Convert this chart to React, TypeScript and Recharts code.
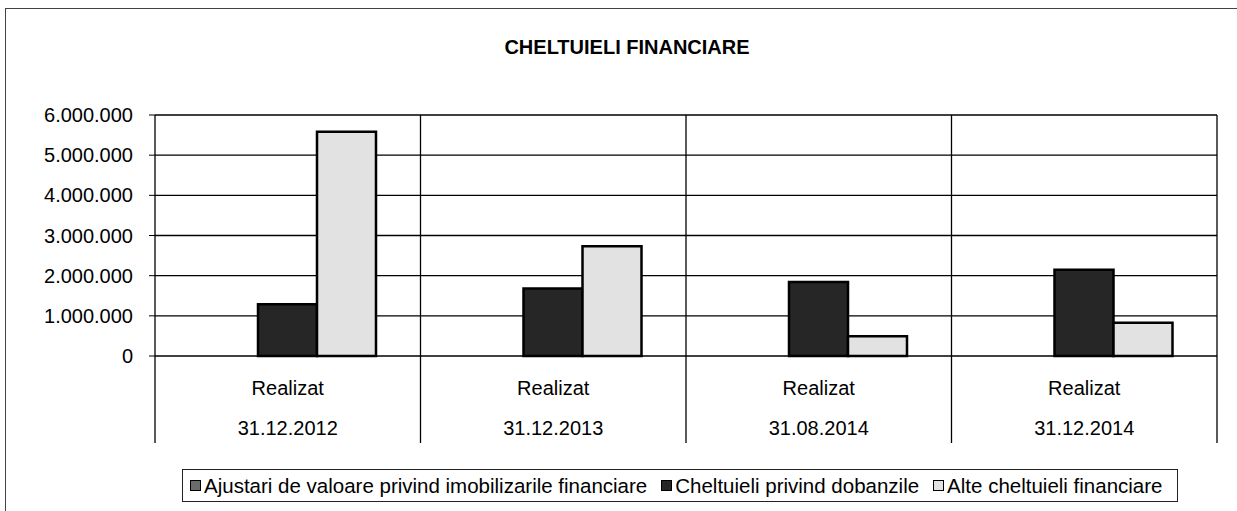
import React from 'react';
import { BarChart, Bar, XAxis, YAxis, CartesianGrid, Legend } from 'recharts';

// categories (two-line labels)
const stages = ['Realizat', 'Realizat', 'Realizat', 'Realizat'];
const dates = ['31.12.2012', '31.12.2013', '31.08.2014', '31.12.2014'];

// series values (lei)
const ajustari = [0, 0, 0, 0];
const dobanzi = [1290000, 1680000, 1840000, 2150000];
const alte = [5580000, 2730000, 490000, 830000];

const yTicks = [0, 1000000, 2000000, 3000000, 4000000, 5000000, 6000000];

const SERIES = [
  { key: 'ajustari', name: 'Ajustari de valoare privind imobilizarile financiare', fill: '#6b6b6b' },
  { key: 'dobanzi', name: 'Cheltuieli privind dobanzile', fill: '#262626' },
  { key: 'alte', name: 'Alte cheltuieli financiare', fill: '#e2e2e2' },
];

const data = dates.map((d, i) => ({
  period: d,
  stage: stages[i],
  ajustari: ajustari[i],
  dobanzi: dobanzi[i],
  alte: alte[i],
}));

const W = 1237;
const H = 511;
const PLOT_LEFT = 155;
const PLOT_RIGHT = 1217;
const PLOT_TOP = 115;
const PLOT_BOTTOM = 356;
const SEP_BOTTOM = 443;
const BAND = (PLOT_RIGHT - PLOT_LEFT) / dates.length;
const FONT = '"Liberation Sans", Arial, sans-serif';

const fmt = (v: number) => v.toLocaleString('de-DE');

const CategoryTick = (props: any) => {
  const { x, y, payload, index } = props;
  const half = BAND / 2;
  return (
    <g>
      <line x1={x - half} x2={x - half} y1={PLOT_TOP} y2={SEP_BOTTOM} stroke="#000" strokeWidth={1.3} />
      {index === dates.length - 1 && (
        <line x1={x + half} x2={x + half} y1={PLOT_TOP} y2={SEP_BOTTOM} stroke="#000" strokeWidth={1.3} />
      )}
      <text x={x} y={y + 32} dy="0.355em" textAnchor="middle" fill="#000" fontSize={20} fontFamily={FONT}>
        {stages[index]}
      </text>
      <text x={x} y={y + 72} dy="0.355em" textAnchor="middle" fill="#000" fontSize={20} fontFamily={FONT}>
        {payload.value}
      </text>
    </g>
  );
};

const LegendBox = () => (
  <div
    style={{
      boxSizing: 'border-box',
      width: '100%',
      height: '100%',
      border: '1.5px solid #222',
      display: 'flex',
      alignItems: 'center',
      paddingLeft: 7,
      fontFamily: FONT,
      fontSize: 20.5,
      color: '#000',
      whiteSpace: 'nowrap',
    }}
  >
    {SERIES.map((s, i) => (
      <span key={s.key} style={{ display: 'flex', alignItems: 'center', marginRight: i < SERIES.length - 1 ? 14 : 0 }}>
        <span
          style={{
            display: 'inline-block',
            width: 9,
            height: 9,
            border: '1.5px solid #000',
            background: s.fill,
            marginRight: 3,
          }}
        />
        {s.name}
      </span>
    ))}
  </div>
);

export default function App() {
  return (
    <div style={{ position: 'absolute', left: 0, top: 0, width: W, height: H, background: '#fff', overflow: 'hidden' }}>
      <div
        style={{
          position: 'absolute',
          left: 5,
          top: 8,
          width: W,
          height: H,
          borderLeft: '1.5px solid #444',
          borderTop: '1.5px solid #444',
        }}
      />
      <div
        style={{
          position: 'absolute',
          left: 0,
          width: 1254,
          top: 36,
          textAlign: 'center',
          fontFamily: FONT,
          fontWeight: 700,
          fontSize: 20,
          color: '#000',
        }}
      >
        CHELTUIELI FINANCIARE
      </div>
      <div style={{ position: 'absolute', left: 0, top: 0 }}>
        <BarChart
          width={W}
          height={H}
          data={data}
          margin={{ top: PLOT_TOP, right: W - PLOT_RIGHT, left: 5, bottom: H - PLOT_BOTTOM - 88 }}
          barGap={0}
          barCategoryGap={44}
        >
          <CartesianGrid vertical={false} stroke="#000" strokeWidth={1.3} />
          <XAxis
            dataKey="period"
            height={88}
            axisLine={false}
            tickLine={false}
            tickSize={0}
            tickMargin={0}
            interval={0}
            tick={<CategoryTick />}
          />
          <YAxis
            width={150}
            domain={[0, 6000000]}
            ticks={yTicks}
            interval={0}
            axisLine={false}
            tickLine={{ stroke: '#000' }}
            tickSize={6}
            tickMargin={16}
            tickFormatter={fmt}
            tick={{ fill: '#000', fontSize: 20, fontFamily: FONT }}
          />
          <Legend
            verticalAlign="middle"
            align="center"
            layout="horizontal"
            width={996}
            wrapperStyle={{ left: 182, top: 469, width: 996, height: 33 }}
            content={<LegendBox />}
          />
          {SERIES.map((s) => (
            <Bar
              key={s.key}
              dataKey={s.key}
              name={s.name}
              fill={s.fill}
              stroke="#000"
              strokeWidth={2.5}
              isAnimationActive={false}
            />
          ))}
        </BarChart>
      </div>
    </div>
  );
}
